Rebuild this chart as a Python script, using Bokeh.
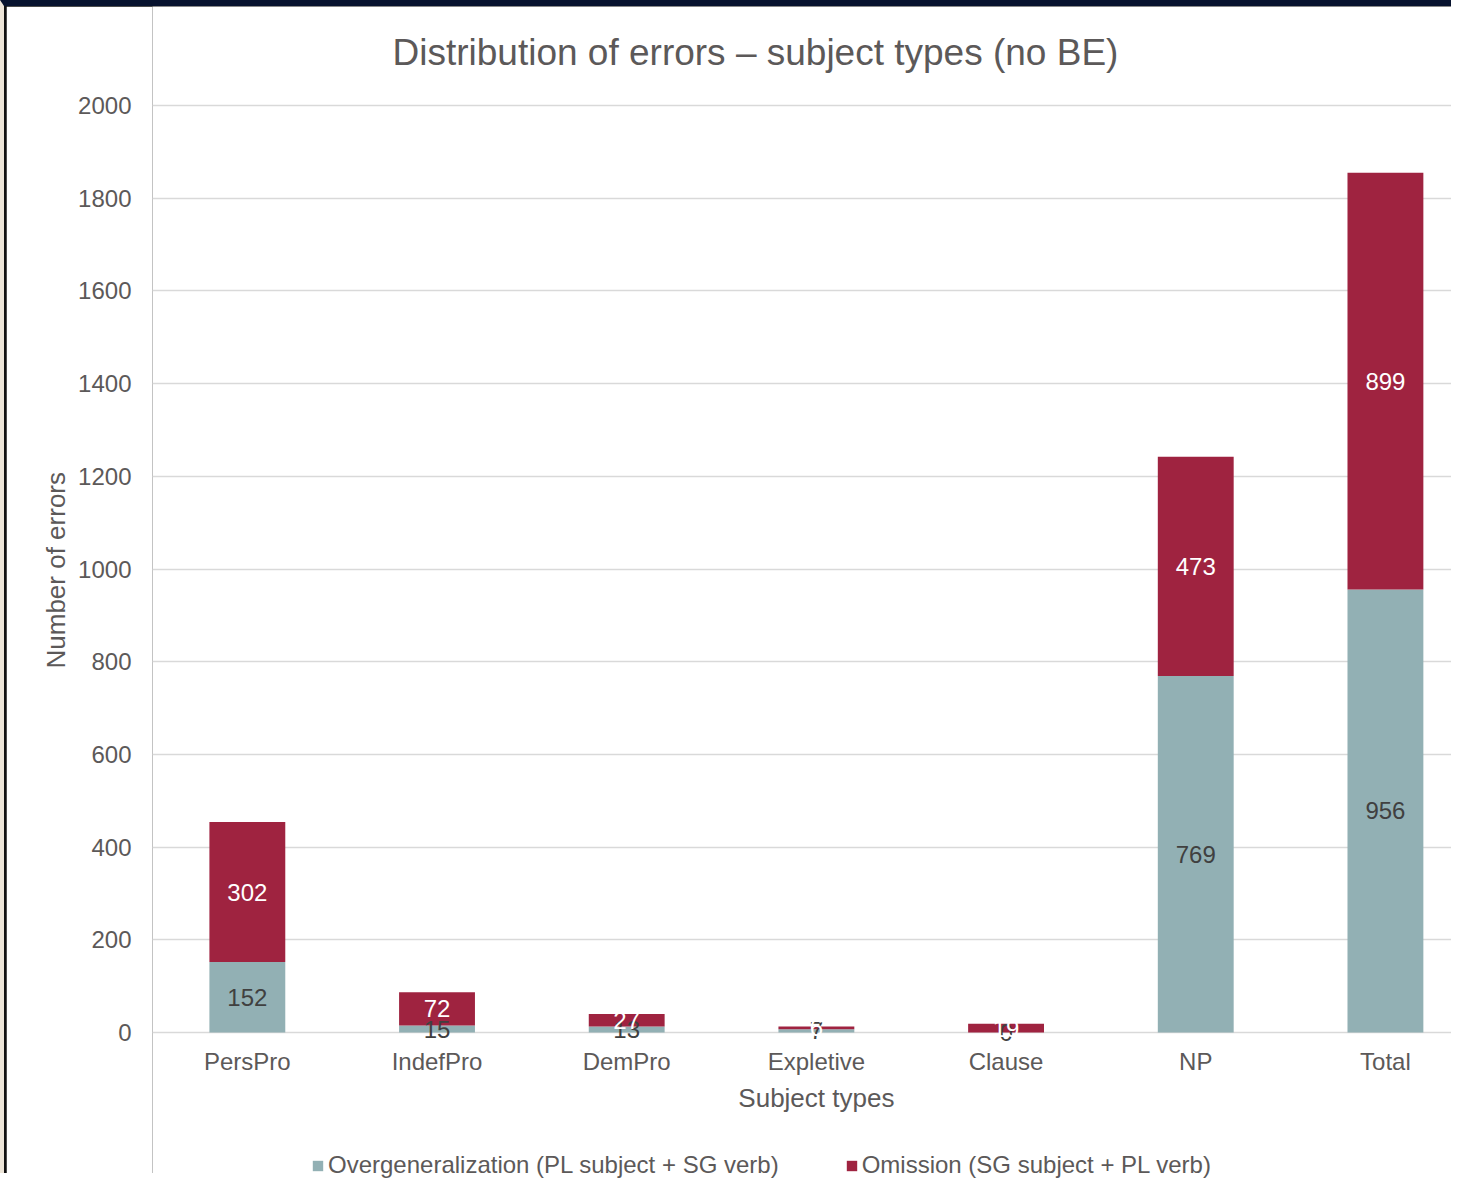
from bokeh.plotting import figure
from bokeh.models import ColumnDataSource, Range1d, FixedTicker, Legend, LegendItem, Title
from bokeh.core.properties import value
from bokeh.embed import file_html
from bokeh.resources import INLINE

categories = ["PersPro", "IndefPro", "DemPro", "Expletive", "Clause", "NP", "Total"]
overgeneralization = [152, 15, 13, 7, 0, 769, 956]
omission = [302, 72, 27, 6, 19, 473, 899]
y_ticks = [0, 200, 400, 600, 800, 1000, 1200, 1400, 1600, 1800, 2000]
series_names = ["Overgeneralization (PL subject + SG verb)", "Omission (SG subject + PL verb)"]
x_title = "Subject types"
y_title = "Number of errors"
chart_title = "Distribution of errors \u2013 subject types (no BE)"

TEAL = "#92B0B4"
RED = "#9F2340"
GRAY = "#5C5959"
FONT = "Liberation Sans"

xs = [i + 0.5 for i in range(len(categories))]
src = ColumnDataSource(dict(
    x=xs, cat=categories, zero=[0] * len(categories),
    over_top=overgeneralization,
    om_bottom=overgeneralization,
    om_top=[a + b for a, b in zip(overgeneralization, omission)],
    over_mid=[v / 2 for v in overgeneralization],
    om_mid=[a + b / 2 for a, b in zip(overgeneralization, omission)],
    over_lbl=[str(v) for v in overgeneralization],
    om_lbl=[str(v) for v in omission],
))

W, H = 1451, 1173
PX_PER_UNIT = 927 / 2000.0
y_min = y_ticks[0] - (H - 1026) / PX_PER_UNIT
y_max = y_ticks[-1] + 99 / PX_PER_UNIT
p = figure(width=W, height=H, output_backend="svg", toolbar_location=None,
           x_range=Range1d(0, 6.88), y_range=Range1d(y_min, y_max),
           x_axis_location=None,
           min_border_left=146, min_border_right=0, min_border_top=0,
           min_border_bottom=0)
p.styles = {"border-top": "6px solid #07122E", "border-left": "4px solid #EDE5D8",
            "padding-left": "2px", "background-color": "#111111"}
p.outline_line_color = None
p.background_fill_color = "white"
p.border_fill_color = "white"

r1 = p.vbar(x="x", bottom=0, top="over_top", width=0.4, source=src,
            fill_color=TEAL, line_color=None)
r2 = p.vbar(x="x", bottom="om_bottom", top="om_top", width=0.4, source=src,
            fill_color=RED, line_color=None)

p.text(x="x", y="over_mid", text="over_lbl", source=src, text_align="center",
       text_baseline="middle", text_font=value(FONT), text_font_size="24px",
       text_color="#404040")
p.text(x="x", y="om_mid", text="om_lbl", source=src, text_align="center",
       text_baseline="middle", text_font=value(FONT), text_font_size="24px",
       text_color="white")

# category labels and x-axis title, placed just below the zero line
p.text(x="x", y="zero", text="cat", source=src, y_offset=29, text_align="center",
       text_baseline="middle", text_font=value(FONT), text_font_size="24px",
       text_color=GRAY)
mid = (xs[0] + xs[-1]) / 2
p.text(x=[mid], y=[y_ticks[0]], text=[x_title], y_offset=65, text_align="center",
       text_baseline="middle", text_font=value(FONT), text_font_size="26px",
       text_color=GRAY)

# chart title above the top gridline
p.text(x=[0], y=[y_ticks[-1]], text=[chart_title], x_offset=240, y_offset=-53,
       text_align="left", text_baseline="middle", text_font=value(FONT),
       text_font_size="37px", text_color=GRAY)

yax = p.yaxis[0]
yax.ticker = FixedTicker(ticks=y_ticks)
yax.axis_line_color = None
yax.major_tick_line_color = None
yax.minor_tick_line_color = None
yax.major_label_text_font = FONT
yax.major_label_text_font_size = "24px"
yax.major_label_text_color = GRAY
yax.major_label_standoff = 15
yax.axis_label = None

ytitle = Title(text=y_title, align="left", offset=511, standoff=10,
               text_font=FONT, text_font_size="26px", text_font_style="normal",
               text_color=GRAY)
p.add_layout(ytitle, "left")

for g in p.xgrid:
    g.grid_line_color = None
    g.visible = False
p.ygrid.grid_line_color = "#D9D9D9"
p.ygrid.grid_line_width = 1.5

legend = Legend(items=[
    LegendItem(label=series_names[0], renderers=[r1]),
    LegendItem(label=series_names[1], renderers=[r2]),
], orientation="horizontal", location=(159, 0))
legend.label_text_font = FONT
legend.label_text_font_size = "24px"
legend.label_text_color = GRAY
legend.glyph_width = 13
legend.glyph_height = 13
legend.label_standoff = 4
legend.spacing = 66
legend.padding = 0
legend.margin = 0
legend.border_line_color = None
legend.background_fill_alpha = 0
p.add_layout(legend, "center")

open("out.html", "w").write(file_html(p, INLINE))
